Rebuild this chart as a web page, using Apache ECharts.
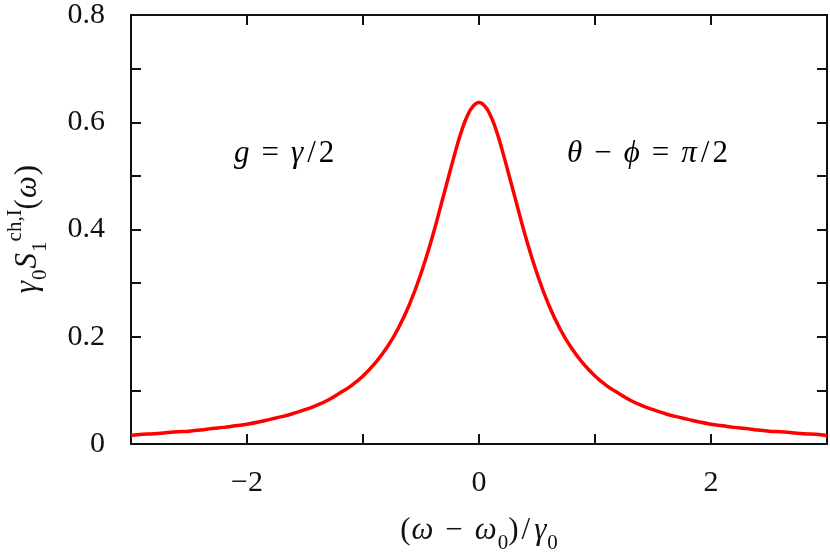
<!DOCTYPE html>
<html>
<head>
<meta charset="utf-8">
<title>spectrum</title>
<script src="https://cdn.jsdelivr.net/npm/echarts@6/dist/echarts.min.js"></script>
<style>
  html, body { margin: 0; padding: 0; background: #fff; }
  #mainchart { width: 830px; height: 553px; }
</style>
</head>
<body>
<div id="mainchart"></div>
<script>
// detuning (omega - omega0)/gamma0
var xValues = [
  -3.0, -2.9, -2.8, -2.7, -2.6, -2.5, -2.4, -2.3, -2.2, -2.1,
  -2.0, -1.9, -1.8, -1.7, -1.6, -1.5, -1.4, -1.3, -1.2, -1.1,
  -1.0, -0.9, -0.8, -0.7, -0.6, -0.5, -0.4, -0.3, -0.2, -0.15, -0.1, -0.05,
   0.0,  0.05, 0.1,  0.15, 0.2,  0.3,  0.4,  0.5,  0.6,  0.7,  0.8,  0.9,
   1.0,  1.1,  1.2,  1.3,  1.4,  1.5,  1.6,  1.7,  1.8,  1.9,
   2.0,  2.1,  2.2,  2.3,  2.4,  2.5,  2.6,  2.7,  2.8,  2.9,
   3.0
];
// gamma0 * S1^{ch,I}(omega)
var spectrum = [
  0.016, 0.018, 0.019, 0.021, 0.023, 0.024, 0.026, 0.029, 0.031, 0.034,
  0.037, 0.041, 0.046, 0.051, 0.057, 0.064, 0.072, 0.082, 0.095, 0.109,
  0.127, 0.150, 0.178, 0.214, 0.260, 0.318, 0.388, 0.468, 0.548, 0.584, 0.612, 0.630,
  0.637, 0.630, 0.612, 0.584, 0.548, 0.468, 0.388, 0.318, 0.260, 0.214, 0.178, 0.150,
  0.127, 0.109, 0.095, 0.082, 0.072, 0.064, 0.057, 0.051, 0.046, 0.041,
  0.037, 0.034, 0.031, 0.029, 0.026, 0.024, 0.023, 0.021, 0.019, 0.018,
  0.016
];
var xLabels = [-2, 0, 2];
var yLabels = [0, 0.2, 0.4, 0.6, 0.8];

var serif = "'Liberation Serif', 'DejaVu Serif', serif";

function fmtX(v) {
  for (var i = 0; i < xLabels.length; i++) {
    if (Math.abs(v - xLabels[i]) < 1e-6) {
      return v < 0 ? '\u2212' + Math.abs(v) : String(v);
    }
  }
  return '';
}

function fmtY(v) {
  for (var i = 0; i < yLabels.length; i++) {
    if (Math.abs(v - yLabels[i]) < 1e-6) {
      return v === 0 ? '0' : v.toFixed(1);
    }
  }
  return '';
}

var seriesData = [];
for (var i = 0; i < xValues.length; i++) {
  seriesData.push([xValues[i], spectrum[i]]);
}

var axisLine = { show: true, onZero: false, lineStyle: { color: '#111', width: 2 } };
var axisTick = { show: true, inside: true, length: 10, lineStyle: { color: '#111', width: 2 } };

// math-like text pieces
var richBase = {
  t: { fontFamily: serif, fontSize: 31, color: '#111', lineHeight: 46, verticalAlign: 'middle' },
  i: { fontFamily: serif, fontSize: 31, fontStyle: 'italic', color: '#111', lineHeight: 46, verticalAlign: 'middle', padding: [0, 1] },
  op: { fontFamily: serif, fontSize: 31, color: '#111', lineHeight: 46, verticalAlign: 'middle', padding: [0, 11] },
  sl: { fontFamily: serif, fontSize: 31, color: '#111', lineHeight: 46, verticalAlign: 'middle', padding: [0, 3] },
  sub: { fontFamily: serif, fontSize: 21, color: '#111', lineHeight: 18, verticalAlign: 'bottom' },
  sup: { fontFamily: serif, fontSize: 21, color: '#111', lineHeight: 18, verticalAlign: 'top' }
};

var myChart = echarts.init(document.getElementById('mainchart'), null, { renderer: 'canvas' });

var option = {
  backgroundColor: '#fff',
  animation: false,
  grid: { left: 131, right: 3, top: 15, bottom: 109, containLabel: false, outerBoundsMode: 'none' },
  xAxis: [{
    type: 'value',
    min: -3, max: 3, interval: 1,
    position: 'bottom',
    axisLine: axisLine, axisTick: axisTick,
    splitLine: { show: false },
    axisLabel: { formatter: fmtX, fontFamily: serif, fontSize: 30, color: '#111', margin: 24 },
    name: '{t|(}{i|ω}{op|\u2212}{i|ω}{sub|0}{t|)}{sl|/}{i|γ}{sub|0}',
    nameLocation: 'middle',
    nameGap: 64,
    nameTextStyle: { rich: richBase }
  }, {
    type: 'value',
    min: -3, max: 3, interval: 1,
    position: 'top',
    axisLine: axisLine, axisTick: axisTick,
    splitLine: { show: false },
    axisLabel: { show: false }
  }],
  yAxis: [{
    type: 'value',
    min: 0, max: 0.8, interval: 0.1,
    position: 'left',
    axisLine: axisLine, axisTick: axisTick,
    splitLine: { show: false },
    axisLabel: { formatter: fmtY, fontFamily: serif, fontSize: 30, color: '#111', margin: 26 },
    name: '{i|γ}{sub|0}{i|S}{sub|1}{sup|ch,I}{t|(}{i|ω}{t|)}',
    nameLocation: 'middle',
    nameRotate: 90,
    nameGap: 80,
    nameTextStyle: { rich: richBase }
  }, {
    type: 'value',
    min: 0, max: 0.8, interval: 0.1,
    position: 'right',
    axisLine: axisLine, axisTick: axisTick,
    splitLine: { show: false },
    axisLabel: { show: false }
  }],
  graphic: [{
    type: 'text',
    left: 233, top: 138,
    style: {
      text: '{i|g}{op|=}{i|γ}{sl|/}{t|2}',
      rich: richBase
    }
  }, {
    type: 'text',
    left: 566, top: 138,
    style: {
      text: '{i|θ}{op|\u2212}{i|ϕ}{op|=}{i|π}{sl|/}{t|2}',
      rich: richBase
    }
  }],
  series: [{
    type: 'line',
    xAxisIndex: 0,
    yAxisIndex: 0,
    data: seriesData,
    smooth: 0.5,
    showSymbol: false,
    lineStyle: { color: '#ff0000', width: 3.5 },
    clip: true
  }]
};

myChart.setOption(option);
</script>
</body>
</html>
